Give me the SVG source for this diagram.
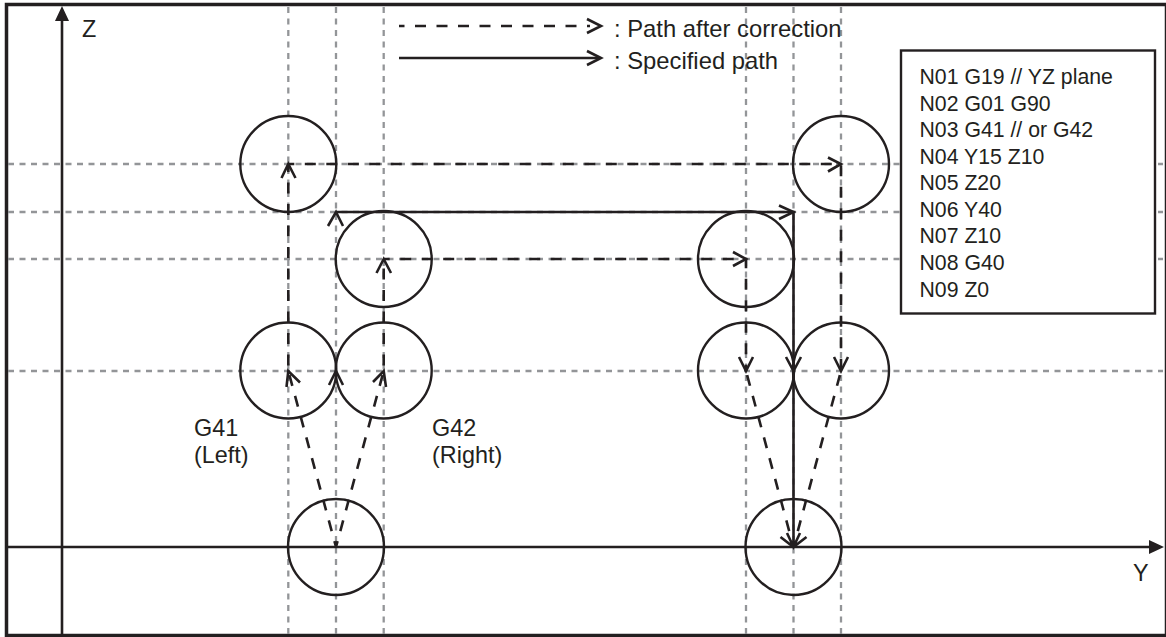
<svg xmlns="http://www.w3.org/2000/svg" width="1166" height="637" viewBox="0 0 1166 637">
<style>
text{font-family:"Liberation Sans",Arial,sans-serif;fill:#231f20}
.t{font-size:23.400px}
.l{font-size:23.800px}
.b{font-size:21.250px}
.g{fill:none;stroke:#939598;stroke-width:2.3;stroke-dasharray:6 5.5}
.c{fill:none;stroke:#231f20;stroke-width:2.4}
.s{fill:none;stroke:#231f20;stroke-width:2.6}
.d{fill:none;stroke:#231f20;stroke-width:2.6;stroke-dasharray:11 10.500;stroke-dashoffset:5}
.h{fill:none;stroke:#231f20;stroke-width:2.6}
</style>
<rect width="1166" height="637" fill="#fff"/>
<rect x="6.500" y="4.500" width="1160" height="631" fill="none" stroke="#231f20" stroke-width="3.500"/>
<g id="grid">
<path class="g" d="M288.300 7V634M336 7V634M383.700 7V634M746 7V634M793.500 7V634M841 7V634"/>
<path class="g" d="M8 164H1163M8 212H1163M8 259H1163M8 371H1163"/>
</g>
<g id="axes">
<path class="s" d="M62 634V20M8 547H1150"/>
<path d="M62 6L55 21H69Z" fill="#231f20"/>
<path d="M1164 547L1149 540V554Z" fill="#231f20"/>
<text class="t" x="82" y="37">Z</text>
<text class="t" x="1133" y="581">Y</text>
</g>
<g id="circle-1"><circle class="c" cx="288.300" cy="164" r="48"/></g>
<g id="circle-2"><circle class="c" cx="383.700" cy="259" r="48"/></g>
<g id="circle-3"><circle class="c" cx="288.300" cy="370.500" r="48"/></g>
<g id="circle-4"><circle class="c" cx="383.700" cy="370.500" r="48"/></g>
<g id="circle-5"><circle class="c" cx="336" cy="547" r="48"/></g>
<g id="circle-6"><circle class="c" cx="841" cy="164" r="48"/></g>
<g id="circle-7"><circle class="c" cx="746" cy="259" r="48"/></g>
<g id="circle-8"><circle class="c" cx="746" cy="370.500" r="48"/></g>
<g id="circle-9"><circle class="c" cx="841" cy="370.500" r="48"/></g>
<g id="circle-10"><circle class="c" cx="793.500" cy="547" r="48"/></g>
<g id="connectors">
<path class="s" d="M336 212H793.500V547"/>
<path class="h" d="M328 226L336 212L343 226M779 205.500L793.500 212L779 219"/>
<path class="d" style="stroke-dashoffset:16" d="M288.300 371V164"/>
<path class="d" d="M288.300 164H841V371"/>
<path class="d" style="stroke-dashoffset:16" d="M383.700 371V259"/>
<path class="d" d="M383.700 259H746V371"/>
<path class="d" d="M336 547L288.300 371M336 547L383.700 371M793.500 547L746 371M793.500 547L841 371"/>
<path class="h" d="M281.500 178L288.300 164L295.500 178M376.500 273L383.700 259L391 273M733 252L746 259L733 266M828 157.500L841 164L828 171.500"/>
<path class="h" d="M286.500 387L288.300 371L300 382.500M373 382L383.700 371L386 387M329 385L336 371L343 385"/>
<path class="h" d="M739 357L746 371L753 357M786 357L793.500 371L801 357M834 357L841 371L848 357"/>
<path class="h" d="M780.500 537L793.500 547L806.500 537M787 533L793.500 547L800 533"/>
<path class="d" style="stroke-dashoffset:5.500" d="M399 26H590"/>
<path class="s" d="M399 58H600"/>
<path class="h" d="M587 19L601 26L587 33M587 51L601 58L587 65"/>
</g>
<g id="legend">
<text class="l" x="614" y="37">: Path after correction</text>
<text class="l" x="614" y="69">: Specified path</text>
</g>
<g id="program">
<rect x="901" y="50.500" width="254" height="263" fill="#fff" stroke="#231f20" stroke-width="2.400"/>
<text class="b" x="919.500" y="84">N01 G19 // YZ plane</text>
<text class="b" x="919.500" y="110.500">N02 G01 G90</text>
<text class="b" x="919.500" y="137">N03 G41 // or G42</text>
<text class="b" x="919.500" y="163.500">N04 Y15 Z10</text>
<text class="b" x="919.500" y="190">N05 Z20</text>
<text class="b" x="919.500" y="216.500">N06 Y40</text>
<text class="b" x="919.500" y="243">N07 Z10</text>
<text class="b" x="919.500" y="270">N08 G40</text>
<text class="b" x="919.500" y="296.500">N09 Z0</text>
</g>
<g id="labels">
<text class="t" x="194" y="436">G41</text>
<text class="t" x="194" y="463">(Left)</text>
<text class="t" x="432" y="436">G42</text>
<text class="t" x="432" y="463">(Right)</text>
</g>
</svg>
